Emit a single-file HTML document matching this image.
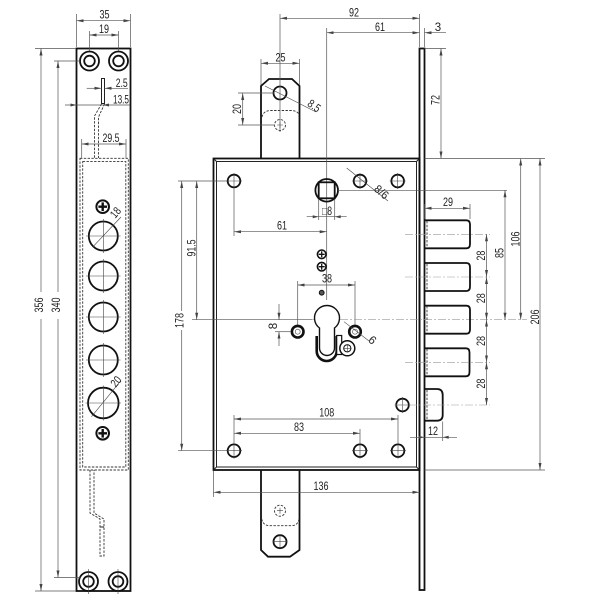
<!DOCTYPE html>
<html><head><meta charset="utf-8"><style>
html,body{margin:0;padding:0;background:#fff;}
svg{display:block;}
.o{stroke:#111;stroke-width:1.8;fill:none;}
.t{stroke:#222;stroke-width:1;fill:none;}
.d{stroke:#555;stroke-width:0.7;fill:none;}
.ds{stroke:#333;stroke-width:0.9;stroke-dasharray:2.4 1.4;fill:none;}
.c{stroke:#999;stroke-width:0.6;stroke-dasharray:8 2 2 2;fill:none;}
.x{stroke:#444;stroke-width:0.6;fill:none;}
text{font-family:"Liberation Sans",sans-serif;font-size:11.5px;fill:#222;}
</style></head><body>
<svg width="600" height="600" viewBox="0 0 600 600" xmlns="http://www.w3.org/2000/svg">
<defs>
<marker id="a" markerUnits="userSpaceOnUse" markerWidth="7" markerHeight="4" refX="7" refY="2" orient="auto-start-reverse"><path d="M0,0.5 L7,2 L0,3.5 z" fill="#444"/></marker>
</defs>

<!-- ============ LEFT STRIP ============ -->
<rect x="76.5" y="48.5" width="54" height="542.5" class="o" stroke-width="2"/>
<!-- top holes -->
<circle cx="89.5" cy="61" r="9.5" class="o" stroke-width="1.6"/>
<circle cx="89.5" cy="61" r="5.3" class="o" stroke-width="1.4"/>
<circle cx="118.5" cy="61" r="9.5" class="o" stroke-width="1.6"/>
<circle cx="118.5" cy="61" r="5.3" class="o" stroke-width="1.4"/>
<!-- bottom holes -->
<circle cx="88.5" cy="581.5" r="9.5" class="o" stroke-width="1.6"/>
<circle cx="88.5" cy="581.5" r="5.3" class="o" stroke-width="1.4"/>
<circle cx="118" cy="581.5" r="9.5" class="o" stroke-width="1.6"/>
<circle cx="118" cy="581.5" r="5.3" class="o" stroke-width="1.4"/>
<path d="M88.5,569 V594 M118,569 V594" class="x" stroke="#aaa"/>

<!-- dim 35 -->
<path d="M76.5,14 V47 M130.5,14 V47" class="d"/>
<line x1="76.5" y1="20.7" x2="130.5" y2="20.7" class="d" marker-start="url(#a)" marker-end="url(#a)"/>
<text x="104.5" y="18.5" text-anchor="middle" textLength="10" lengthAdjust="spacingAndGlyphs">35</text>
<!-- dim 19 -->
<path d="M89.5,31 V51 M118.5,31 V51" class="d"/>
<line x1="89.5" y1="35" x2="118.5" y2="35" class="d" marker-start="url(#a)" marker-end="url(#a)"/>
<text x="104" y="33" text-anchor="middle" textLength="10" lengthAdjust="spacingAndGlyphs">19</text>
<!-- dim 356 -->
<path d="M35,48.5 H76 M35,591 H76" class="d"/>
<line x1="41" y1="48.5" x2="41" y2="292" class="d" marker-start="url(#a)"/>
<line x1="41" y1="319" x2="41" y2="591" class="d" marker-end="url(#a)"/>
<text transform="translate(43,305) rotate(-90)" text-anchor="middle" textLength="15" lengthAdjust="spacingAndGlyphs">356</text>
<!-- dim 340 -->
<path d="M54,61 H80 M54,577.5 H80" class="d"/>
<line x1="58" y1="61" x2="58" y2="292" class="d" marker-start="url(#a)"/>
<line x1="58" y1="319" x2="58" y2="577.5" class="d" marker-end="url(#a)"/>
<text transform="translate(60,305) rotate(-90)" text-anchor="middle" textLength="15" lengthAdjust="spacingAndGlyphs">340</text>

<!-- slot + rod -->
<rect x="101.5" y="78.5" width="3" height="25" class="t" stroke-width="0.9"/>
<path d="M101.5,104 L94.5,116 L94.5,158 M104.5,104 L98.5,117 L98.5,158" class="ds"/>
<!-- dim 2.5 -->
<line x1="86.7" y1="88.3" x2="101.5" y2="88.3" class="d" marker-end="url(#a)"/>
<line x1="104.5" y1="88.3" x2="128" y2="88.3" class="d" marker-start="url(#a)"/>
<text x="121.7" y="87" text-anchor="middle" textLength="12" lengthAdjust="spacingAndGlyphs">2.5</text>
<!-- dim 13.5 -->
<line x1="65" y1="105" x2="130" y2="105" class="d"/>
<path d="M76.5,105 l-6,-1.5 v3 z M103,105 l6,-1.5 v3 z" fill="#444"/>
<text x="121" y="103.5" text-anchor="middle" textLength="16" lengthAdjust="spacingAndGlyphs">13.5</text>
<!-- dim 29.5 -->
<path d="M81.7,139 V158 M126,139 V158" class="d"/>
<line x1="81.7" y1="144" x2="126" y2="144" class="d" marker-start="url(#a)" marker-end="url(#a)"/>
<text x="111" y="142" text-anchor="middle" textLength="17" lengthAdjust="spacingAndGlyphs">29.5</text>

<!-- dashed inner rects -->
<rect x="80" y="158.3" width="48.3" height="311.7" class="ds"/>
<rect x="82.7" y="161.6" width="43.1" height="305.4" class="ds"/>

<!-- screws -->
<g>
<circle cx="102.7" cy="206.7" r="6.3" fill="#fff" stroke="#111" stroke-width="2"/>
<path d="M98.4,206.7 H107 M102.7,202.4 V211" stroke="#111" stroke-width="2.4"/>
<circle cx="102.7" cy="433.3" r="6.3" fill="#fff" stroke="#111" stroke-width="2"/>
<path d="M98.4,433.3 H107 M102.7,429 V437.6" stroke="#111" stroke-width="2.4"/>
</g>
<!-- big circles -->
<g class="o" stroke-width="1.6">
<circle cx="103.3" cy="236" r="14.5"/>
<circle cx="103.3" cy="276" r="14.5"/>
<circle cx="103.3" cy="317" r="14.5"/>
<circle cx="103.3" cy="360" r="14.5"/>
<circle cx="103.3" cy="403" r="15.3"/>
</g>
<path d="M86,236 H120.6 M103.3,219 V253 M86,276 H120.6 M103.3,259 V293 M86,317 H120.6 M103.3,300 V334 M86,360 H120.6 M103.3,343 V377 M85.5,403 H121 M103.3,385.5 V420.5" class="x"/>
<line x1="93" y1="246.7" x2="121" y2="217" class="x" stroke="#222" stroke-width="0.8"/>
<line x1="91.5" y1="416.7" x2="121" y2="380.5" class="x" stroke="#222" stroke-width="0.8"/>
<text transform="translate(118.5,215) rotate(-50)" text-anchor="middle" textLength="10" lengthAdjust="spacingAndGlyphs">18</text>
<text transform="translate(119,384) rotate(-50)" text-anchor="middle" textLength="10" lengthAdjust="spacingAndGlyphs">20</text>

<!-- bottom rod -->
<path d="M90,470 L90,513 L100,519 L100,556 L104,556 L104,519 L94,513 L94,470" class="ds"/>
<path d="M100,527 H104" class="t" stroke-width="0.8"/>

<!-- ============ MAIN LOCK ============ -->
<!-- faceplate -->
<rect x="419.5" y="48.5" width="5" height="541.5" class="o" stroke-width="1.6"/>
<!-- body -->
<rect x="213.5" y="158.5" width="206" height="311.5" class="o"/>
<rect x="216.5" y="161.5" width="200" height="305.5" class="t" stroke-width="0.8"/>
<path d="M213.5,158.5 L216.5,161.5 M419.5,158.5 L416.5,161.5 M213.5,470 L216.5,467 M419.5,470 L416.5,467" class="t" stroke-width="0.8"/>

<!-- top tab -->
<path d="M261,158.5 L261,86 L269,79 L292,79 L299.5,86 L299.5,158.5" class="o"/>
<circle cx="280" cy="93" r="6.5" class="o" stroke-width="2"/>
<circle cx="280" cy="125" r="5.5" class="ds"/>
<path d="M277,125 H283 M280,122 V128" class="x" stroke-width="0.5"/>
<path d="M262,117 Q263.5,110.5 271,110.5 L290,110.5 Q298,110.5 299,115" class="ds"/>
<!-- bottom tab -->
<path d="M261,470 L261,550 L268,556.7 L290,556.7 L299.5,550 L299.5,470" class="o"/>
<circle cx="280" cy="541.7" r="6.5" class="o" stroke-width="1.8"/>
<path d="M273,541.7 H287 M280,534.7 V548.7" class="x"/>
<circle cx="280" cy="510.7" r="5.5" class="ds"/>
<path d="M277,510.7 H283 M280,507.7 V513.7" class="x" stroke-width="0.5"/>
<path d="M261.7,519 Q263,525.7 270,525.7 L291,525.7 Q298,525.7 299,519" class="ds"/>

<!-- dim 92 -->
<path d="M280,14 V132 M419.5,14 V47" class="d"/>
<line x1="280" y1="18.3" x2="419.5" y2="18.3" class="d" marker-start="url(#a)" marker-end="url(#a)"/>
<text x="354" y="16.5" text-anchor="middle" textLength="10" lengthAdjust="spacingAndGlyphs">92</text>
<!-- dim 61 top + 3 -->
<path d="M326.7,28 V300 M424.5,28 V47" class="d"/>
<line x1="326.7" y1="32.7" x2="419.5" y2="32.7" class="d" marker-start="url(#a)" marker-end="url(#a)"/>
<line x1="424.5" y1="32.7" x2="446" y2="32.7" class="d" marker-start="url(#a)"/>
<text x="380" y="31" text-anchor="middle" textLength="10" lengthAdjust="spacingAndGlyphs">61</text>
<text x="438" y="31" text-anchor="middle">3</text>
<!-- dim 72 -->
<path d="M424.5,48.5 H446" class="d"/>
<line x1="441" y1="48.5" x2="441" y2="158.5" class="d" marker-start="url(#a)" marker-end="url(#a)"/>
<text transform="translate(439.5,100) rotate(-90)" text-anchor="middle" textLength="10" lengthAdjust="spacingAndGlyphs">72</text>
<!-- dim 25 -->
<path d="M261,59 V85 M299.5,59 V85" class="d"/>
<line x1="261" y1="63.3" x2="299.5" y2="63.3" class="d" marker-start="url(#a)" marker-end="url(#a)"/>
<text x="280.5" y="61.5" text-anchor="middle" textLength="10" lengthAdjust="spacingAndGlyphs">25</text>
<!-- dim 20 -->
<path d="M238,93 H274 M238,125 H275" class="d"/>
<line x1="242.7" y1="93" x2="242.7" y2="125" class="d" marker-start="url(#a)" marker-end="url(#a)"/>
<text transform="translate(241,109) rotate(-90)" text-anchor="middle" textLength="10" lengthAdjust="spacingAndGlyphs">20</text>
<!-- 8.5 leader -->
<line x1="265" y1="86" x2="316" y2="112" class="x" stroke="#222" stroke-width="0.8"/>
<text transform="translate(312,109) rotate(35)" text-anchor="middle" textLength="13" lengthAdjust="spacingAndGlyphs">8.5</text>

<!-- body holes -->
<g class="o" stroke-width="1.5">
<circle cx="234" cy="181" r="6.3"/>
<circle cx="360" cy="181" r="6.3"/>
<circle cx="397.7" cy="181" r="6.3"/>
<circle cx="402.5" cy="405" r="6.3"/>
<circle cx="234" cy="450.7" r="6.3"/>
<circle cx="360" cy="450.7" r="6.3"/>
<circle cx="398" cy="450.7" r="6.3"/>
</g>
<path d="M226,181 H242 M234,173 V189 M352,181 H368 M360,173 V189 M389.7,181 H405.7 M397.7,173 V189 M394.5,405 H410.5 M402.5,397 V413 M226,450.7 H242 M234,442.7 V458.7 M352,450.7 H368 M360,442.7 V458.7 M390,450.7 H406 M398,442.7 V458.7" class="x"/>

<!-- spindle -->
<circle cx="326.7" cy="190.3" r="11.3" class="o"/>
<rect x="318.7" y="182.3" width="16" height="16" class="o"/>
<path d="M338,190.3 H507" class="d"/>
<!-- square 8 -->
<path d="M318.7,199 V220 M334.7,199 V220" class="d"/>
<line x1="306.7" y1="216.7" x2="346.7" y2="216.7" class="d"/>
<path d="M318.7,216.7 l-6,-1.5 v3 z M334.7,216.7 l6,-1.5 v3 z" fill="#444"/>
<text x="327" y="214.8" text-anchor="middle" font-size="10" textLength="10" lengthAdjust="spacingAndGlyphs">□8</text>
<!-- 8/6 leader -->
<line x1="346.7" y1="168" x2="388" y2="201" class="x" stroke="#222" stroke-width="0.8"/>
<text transform="translate(379,195) rotate(40)" text-anchor="middle" textLength="15" lengthAdjust="spacingAndGlyphs">8/6</text>

<!-- dim 61 body -->
<path d="M234,189 V236" class="d"/>
<line x1="234" y1="231.7" x2="326.7" y2="231.7" class="d" marker-start="url(#a)" marker-end="url(#a)"/>
<text x="282" y="229.5" text-anchor="middle" textLength="10" lengthAdjust="spacingAndGlyphs">61</text>

<!-- small screws -->
<circle cx="321.7" cy="254.3" r="4.3" fill="#fff" stroke="#111" stroke-width="1.6"/>
<path d="M318.7,254.3 H324.7 M321.7,251.3 V257.3" stroke="#111" stroke-width="1.3"/>
<circle cx="321.7" cy="266.7" r="4.3" fill="#fff" stroke="#111" stroke-width="1.6"/>
<path d="M318.7,266.7 H324.7 M321.7,263.7 V269.7" stroke="#111" stroke-width="1.3"/>
<circle cx="321.7" cy="292.7" r="2.4" fill="#555" stroke="#111" stroke-width="1"/>

<!-- dim 38 -->
<path d="M297.7,281 V325 M355,281 V325" class="d"/>
<line x1="297.7" y1="285" x2="355" y2="285" class="d" marker-start="url(#a)" marker-end="url(#a)"/>
<text x="327" y="282.5" text-anchor="middle" textLength="10" lengthAdjust="spacingAndGlyphs">38</text>

<!-- centre line y=320 -->
<line x1="192" y1="319.7" x2="312" y2="319.7" class="d"/>
<line x1="312" y1="319.7" x2="527" y2="319.7" class="c"/>
<!-- dims 91.5 and 178 -->
<path d="M178,181 H227 M178,450.7 H227" class="d"/>
<line x1="196.7" y1="181" x2="196.7" y2="319.7" class="d" marker-start="url(#a)" marker-end="url(#a)"/>
<text transform="translate(195.5,248) rotate(-90)" text-anchor="middle" textLength="17" lengthAdjust="spacingAndGlyphs">91.5</text>
<line x1="181.7" y1="181" x2="181.7" y2="311" class="d" marker-start="url(#a)"/>
<line x1="181.7" y1="330" x2="181.7" y2="450.7" class="d" marker-end="url(#a)"/>
<text transform="translate(183.5,320.5) rotate(-90)" text-anchor="middle" textLength="15" lengthAdjust="spacingAndGlyphs">178</text>

<!-- cylinder holes -->
<circle cx="297.7" cy="331.7" r="5.8" fill="none" stroke="#111" stroke-width="2.6"/>
<circle cx="297.7" cy="331.7" r="2.5" class="x"/>
<circle cx="355" cy="331.7" r="5.8" fill="none" stroke="#111" stroke-width="2.6"/>
<circle cx="355" cy="331.7" r="2.5" class="x"/>
<!-- dim 8 -->
<path d="M275,331.7 H291" class="d"/>
<line x1="279" y1="304" x2="279" y2="319.7" class="d" marker-end="url(#a)"/>
<line x1="279" y1="331.7" x2="279" y2="346" class="d" marker-start="url(#a)"/>
<text transform="translate(277,326) rotate(-90)" text-anchor="middle">8</text>
<!-- 6 leader -->
<line x1="344" y1="321.7" x2="369" y2="341" class="x" stroke="#222" stroke-width="0.8"/>
<text transform="translate(370,343) rotate(40)" text-anchor="middle">6</text>

<!-- keyhole -->
<path d="M319.5,328 A12.5,12.5 0 1,1 334.5,328 L334.5,348 A7.5,7.5 0 0,1 319.5,348 Z" fill="#fff" stroke="#111" stroke-width="1.4"/>
<path d="M316.7,336 L316.7,351 A10,10 0 0,0 336.7,351 L336.7,336" fill="none" stroke="#111" stroke-width="2.6"/>
<rect x="336.7" y="335.5" width="5" height="19" fill="#fff" stroke="#111" stroke-width="1.2"/>
<circle cx="347.3" cy="348.3" r="7.5" fill="#fff" stroke="#111" stroke-width="1.5"/>
<circle cx="347.3" cy="348.3" r="3.6" fill="none" stroke="#111" stroke-width="1"/>
<path d="M343,348.3 H351.6 M347.3,344 V352.6" class="x"/>

<!-- bolts -->
<g class="o">
<path d="M424.5,220.3 L466.5,220.3 Q470,220.3 470,224.5 L470,244 Q470,248.3 466.5,248.3 L424.5,248.3"/>
<path d="M424.5,263 L466.5,263 Q470,263 470,267.2 L470,286.8 Q470,291 466.5,291 L424.5,291"/>
<path d="M424.5,305.7 L466.5,305.7 Q470,305.7 470,309.9 L470,329.5 Q470,333.7 466.5,333.7 L424.5,333.7"/>
<path d="M424.5,348.3 L466,348.3 Q469.5,348.3 469.5,352.5 L469.5,372 Q469.5,376.3 466,376.3 L424.5,376.3"/>
<path d="M424.5,389 L437,389 Q442.7,389 442.7,395 L442.7,415 Q442.7,420.7 437,420.7 L424.5,420.7"/>
</g>
<path d="M427,221 V248 M427,264 V291 M427,306 V333 M427,349 V376 M427,390 V420" class="ds" stroke-width="0.7"/>
<path d="M405,234.3 H490 M405,277 H490 M405,362.3 H490 M395,405 H490" class="c"/>

<!-- dim 29 -->
<path d="M424.5,204 V219 M470,204 V219" class="d"/>
<line x1="424.5" y1="208.3" x2="470" y2="208.3" class="d" marker-start="url(#a)" marker-end="url(#a)"/>
<text x="448" y="206" text-anchor="middle" textLength="10" lengthAdjust="spacingAndGlyphs">29</text>
<!-- dims 28 -->
<g class="d">
<line x1="486.5" y1="234.3" x2="486.5" y2="277" marker-start="url(#a)" marker-end="url(#a)"/>
<line x1="486.5" y1="277" x2="486.5" y2="319.7" marker-start="url(#a)" marker-end="url(#a)"/>
<line x1="486.5" y1="319.7" x2="486.5" y2="362.3" marker-start="url(#a)" marker-end="url(#a)"/>
<line x1="486.5" y1="362.3" x2="486.5" y2="405" marker-start="url(#a)" marker-end="url(#a)"/>
</g>
<text transform="translate(485,255.6) rotate(-90)" text-anchor="middle" textLength="10" lengthAdjust="spacingAndGlyphs">28</text>
<text transform="translate(485,298.3) rotate(-90)" text-anchor="middle" textLength="10" lengthAdjust="spacingAndGlyphs">28</text>
<text transform="translate(485,341) rotate(-90)" text-anchor="middle" textLength="10" lengthAdjust="spacingAndGlyphs">28</text>
<text transform="translate(485,383.6) rotate(-90)" text-anchor="middle" textLength="10" lengthAdjust="spacingAndGlyphs">28</text>
<!-- dims 85 / 106 / 206 -->
<path d="M424.5,158.5 H545 M424.5,470 H545" class="d"/>
<line x1="505" y1="190.3" x2="505" y2="319.7" class="d" marker-start="url(#a)" marker-end="url(#a)"/>
<text transform="translate(503.5,253) rotate(-90)" text-anchor="middle" textLength="10" lengthAdjust="spacingAndGlyphs">85</text>
<line x1="520.7" y1="158.5" x2="520.7" y2="319.7" class="d" marker-start="url(#a)" marker-end="url(#a)"/>
<text transform="translate(519.5,239) rotate(-90)" text-anchor="middle" textLength="15" lengthAdjust="spacingAndGlyphs">106</text>
<line x1="540" y1="158.5" x2="540" y2="470" class="d" marker-start="url(#a)" marker-end="url(#a)"/>
<text transform="translate(539,317) rotate(-90)" text-anchor="middle" textLength="15" lengthAdjust="spacingAndGlyphs">206</text>
<!-- dim 12 -->
<path d="M442.7,421.5 V441" class="d"/>
<line x1="410" y1="437.3" x2="457" y2="437.3" class="d"/>
<path d="M424.5,437.3 l-6,-1.5 v3 z M442.7,437.3 l6,-1.5 v3 z" fill="#444"/>
<text x="433" y="435" text-anchor="middle" textLength="10" lengthAdjust="spacingAndGlyphs">12</text>

<!-- bottom dims -->
<path d="M234,415 V443 M398,415 V443 M360,429 V443" class="d"/>
<line x1="234" y1="419" x2="398" y2="419" class="d" marker-start="url(#a)" marker-end="url(#a)"/>
<text x="326.7" y="416.5" text-anchor="middle" textLength="15" lengthAdjust="spacingAndGlyphs">108</text>
<line x1="234" y1="433.3" x2="360" y2="433.3" class="d" marker-start="url(#a)" marker-end="url(#a)"/>
<text x="299" y="431" text-anchor="middle" textLength="10" lengthAdjust="spacingAndGlyphs">83</text>
<path d="M213.5,471 V497" class="d"/>
<line x1="213.5" y1="492.3" x2="419.5" y2="492.3" class="d" marker-start="url(#a)" marker-end="url(#a)"/>
<text x="321" y="490" text-anchor="middle" textLength="15" lengthAdjust="spacingAndGlyphs">136</text>
</svg>
</body></html>
